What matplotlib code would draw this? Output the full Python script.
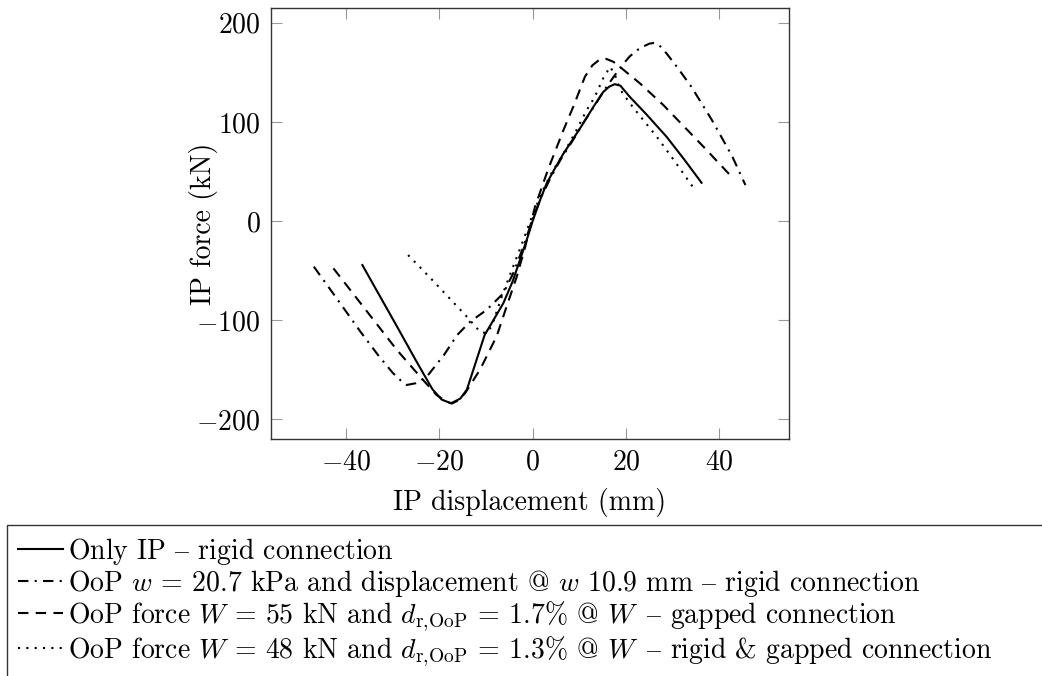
"""
IP force vs IP displacement for the four loading cases.
"""
import matplotlib
matplotlib.use("Agg")
import matplotlib.pyplot as plt

plt.rcParams['font.family'] = ['cmr10', 'DejaVu Serif']
plt.rcParams['mathtext.fontset'] = 'cm'
plt.rcParams['axes.formatter.use_mathtext'] = True
plt.rcParams['axes.unicode_minus'] = True

FONT_SIZE = 20

### Data
# Only IP - rigid connection
ip_x = [-36.5, -33.0, -29.0, -25.0, -21.5, -19.5, -17.5, -15.5, -14.1, -12.3,
        -10.3, -8.3, -6.3, -4.3, -2.7, -1.2, 0.0, 1.5, 3.0, 5.0,
        6.6, 8.7, 10.5, 13.0, 15.1, 16.4, 17.6, 18.8, 20.8, 24.4,
        28.7, 32.5, 36.2]
ip_y = [-44.4, -73.6, -107.0, -140.8, -169.5, -180.0, -183.8, -179.0, -170.0, -144.0,
        -115.0, -99.0, -83.0, -61.0, -39.0, -18.0, 0.0, 20.0, 38.0, 55.0,
        68.0, 83.0, 96.0, 115.0, 130.0, 135.5, 138.0, 136.5, 125.3, 107.5,
        85.0, 62.0, 38.6]

# OoP w = 20.7 kPa - rigid connection
w_x = [-46.9, -42.0, -37.0, -33.0, -30.0, -28.0, -27.0, -25.0, -22.7, -19.0,
       -16.2, -13.4, -9.9, -6.3, -4.2, -2.0, 0.0, 2.0, 4.0, 6.0,
       8.7, 11.0, 13.5, 15.5, 17.3, 19.0, 20.8, 23.0, 25.1, 26.0,
       27.0, 28.7, 31.0, 34.0, 38.4, 42.8, 45.6]
w_y = [-46.0, -78.0, -111.0, -136.0, -153.0, -162.0, -165.3, -163.5, -157.0, -135.0,
       -115.0, -101.5, -89.7, -73.0, -53.0, -26.0, 2.0, 26.0, 45.0, 62.0,
       82.0, 100.0, 118.0, 133.0, 145.0, 156.0, 166.0, 174.5, 179.0, 179.5,
       178.0, 169.0, 155.0, 135.5, 102.0, 65.0, 36.3]

# OoP force W = 55 kN - gapped connection
g_x = [-42.7, -36.3, -29.1, -24.1, -20.6, -18.5, -17.3, -16.0, -14.5, -11.3,
       -7.7, -5.6, -3.4, -1.6, 0.5, 3.3, 6.6, 8.7, 11.2, 12.8,
       14.4, 15.5, 17.3, 18.3, 23.0, 28.0, 36.6, 42.3]
g_y = [-47.7, -86.4, -130.0, -157.0, -175.4, -182.0, -184.0, -181.0, -173.7, -150.0,
       -116.0, -86.4, -56.0, -26.0, 14.4, 52.0, 91.7, 115.2, 145.5, 157.0,
       163.0, 164.0, 160.6, 157.0, 138.8, 117.0, 75.0, 46.4]

# OoP force W = 48 kN - rigid & gapped connection
rg_x = [-26.7, -22.0, -18.0, -14.0, -11.3, -10.0, -8.8, -6.6, -4.2, -2.3,
        -0.2, 1.9, 4.0, 6.6, 9.0, 11.6, 13.3, 15.1, 16.6, 17.6,
        18.7, 20.8, 23.0, 26.6, 30.5, 34.3]
rg_y = [-34.3, -57.0, -77.0, -97.0, -111.6, -113.0, -106.5, -76.0, -46.0, -23.0,
        4.0, 28.0, 48.0, 68.0, 88.0, 112.0, 125.0, 143.8, 155.5, 148.0,
        133.0, 119.0, 106.0, 85.0, 60.0, 34.6]

DASH = "$\u2013$"  # en dash through mathtext, cmr10 has no usable glyph for it
D_R = "$d_{\\mathrm{r},\\!\\mathrm{OoP}}$"

labels = [
    f"Only IP {DASH} rigid connection",
    f"OoP $w$ = 20.7 kPa and displacement @ $w$ 10.9 mm {DASH} rigid connection",
    f"OoP force $W$ = 55 kN and {D_R} = 1.7% @ $W\\,$ {DASH} gapped connection",
    f"OoP force $W$ = 48 kN and {D_R} = 1.3% @ $W\\,$ {DASH} rigid & gapped connection",
]

def main():
    fig = plt.figure(figsize=(10.42, 6.76), dpi=100)
    ax = fig.add_axes([0.260, 0.351, 0.497, 0.637])

    lw = 1.5
    h1, = ax.plot(ip_x, ip_y, color='k', lw=lw, linestyle='-')
    h2, = ax.plot(w_x, w_y, color='k', lw=lw, linestyle=(0, (5, 3, 1, 3)))
    h3, = ax.plot(g_x, g_y, color='k', lw=lw, linestyle=(0, (5, 3.5)))
    h4, = ax.plot(rg_x, rg_y, color='k', lw=lw, linestyle=(0, (1, 3)))

    ax.set_xlim(-56.1, 54.9)
    ax.set_ylim(-219.5, 214.7)
    ax.set_xticks([-40, -20, 0, 20, 40])
    ax.set_yticks([-200, -100, 0, 100, 200])

    ax.tick_params(direction='in', top=True, right=True, length=8, width=0.8,
                   color='#999999', labelsize=FONT_SIZE, pad=7.5)
    for s in ax.spines.values():
        s.set_color('#333333')
        s.set_linewidth(1.0)

    ax.set_xlabel("IP displacement (mm)", fontsize=FONT_SIZE, labelpad=9)
    ax.set_ylabel("IP force (kN)", fontsize=FONT_SIZE)
    ax.yaxis.set_label_coords(-0.102, 0.5)

    leg = fig.legend([h1, h2, h3, h4], labels, loc='upper left',
                     bbox_to_anchor=(7 / 1042, 1 - 525 / 676, 1.1, 0.0),
                     mode='expand', fontsize=FONT_SIZE, frameon=True, fancybox=False,
                     handlelength=1.6, handletextpad=0.2, labelspacing=0.02,
                     borderpad=0.4, borderaxespad=0.0)
    leg.get_frame().set_edgecolor('k')
    leg.get_frame().set_linewidth(1.0)

    fig.savefig("out.png", dpi=100)

if __name__ == "__main__":
    main()
